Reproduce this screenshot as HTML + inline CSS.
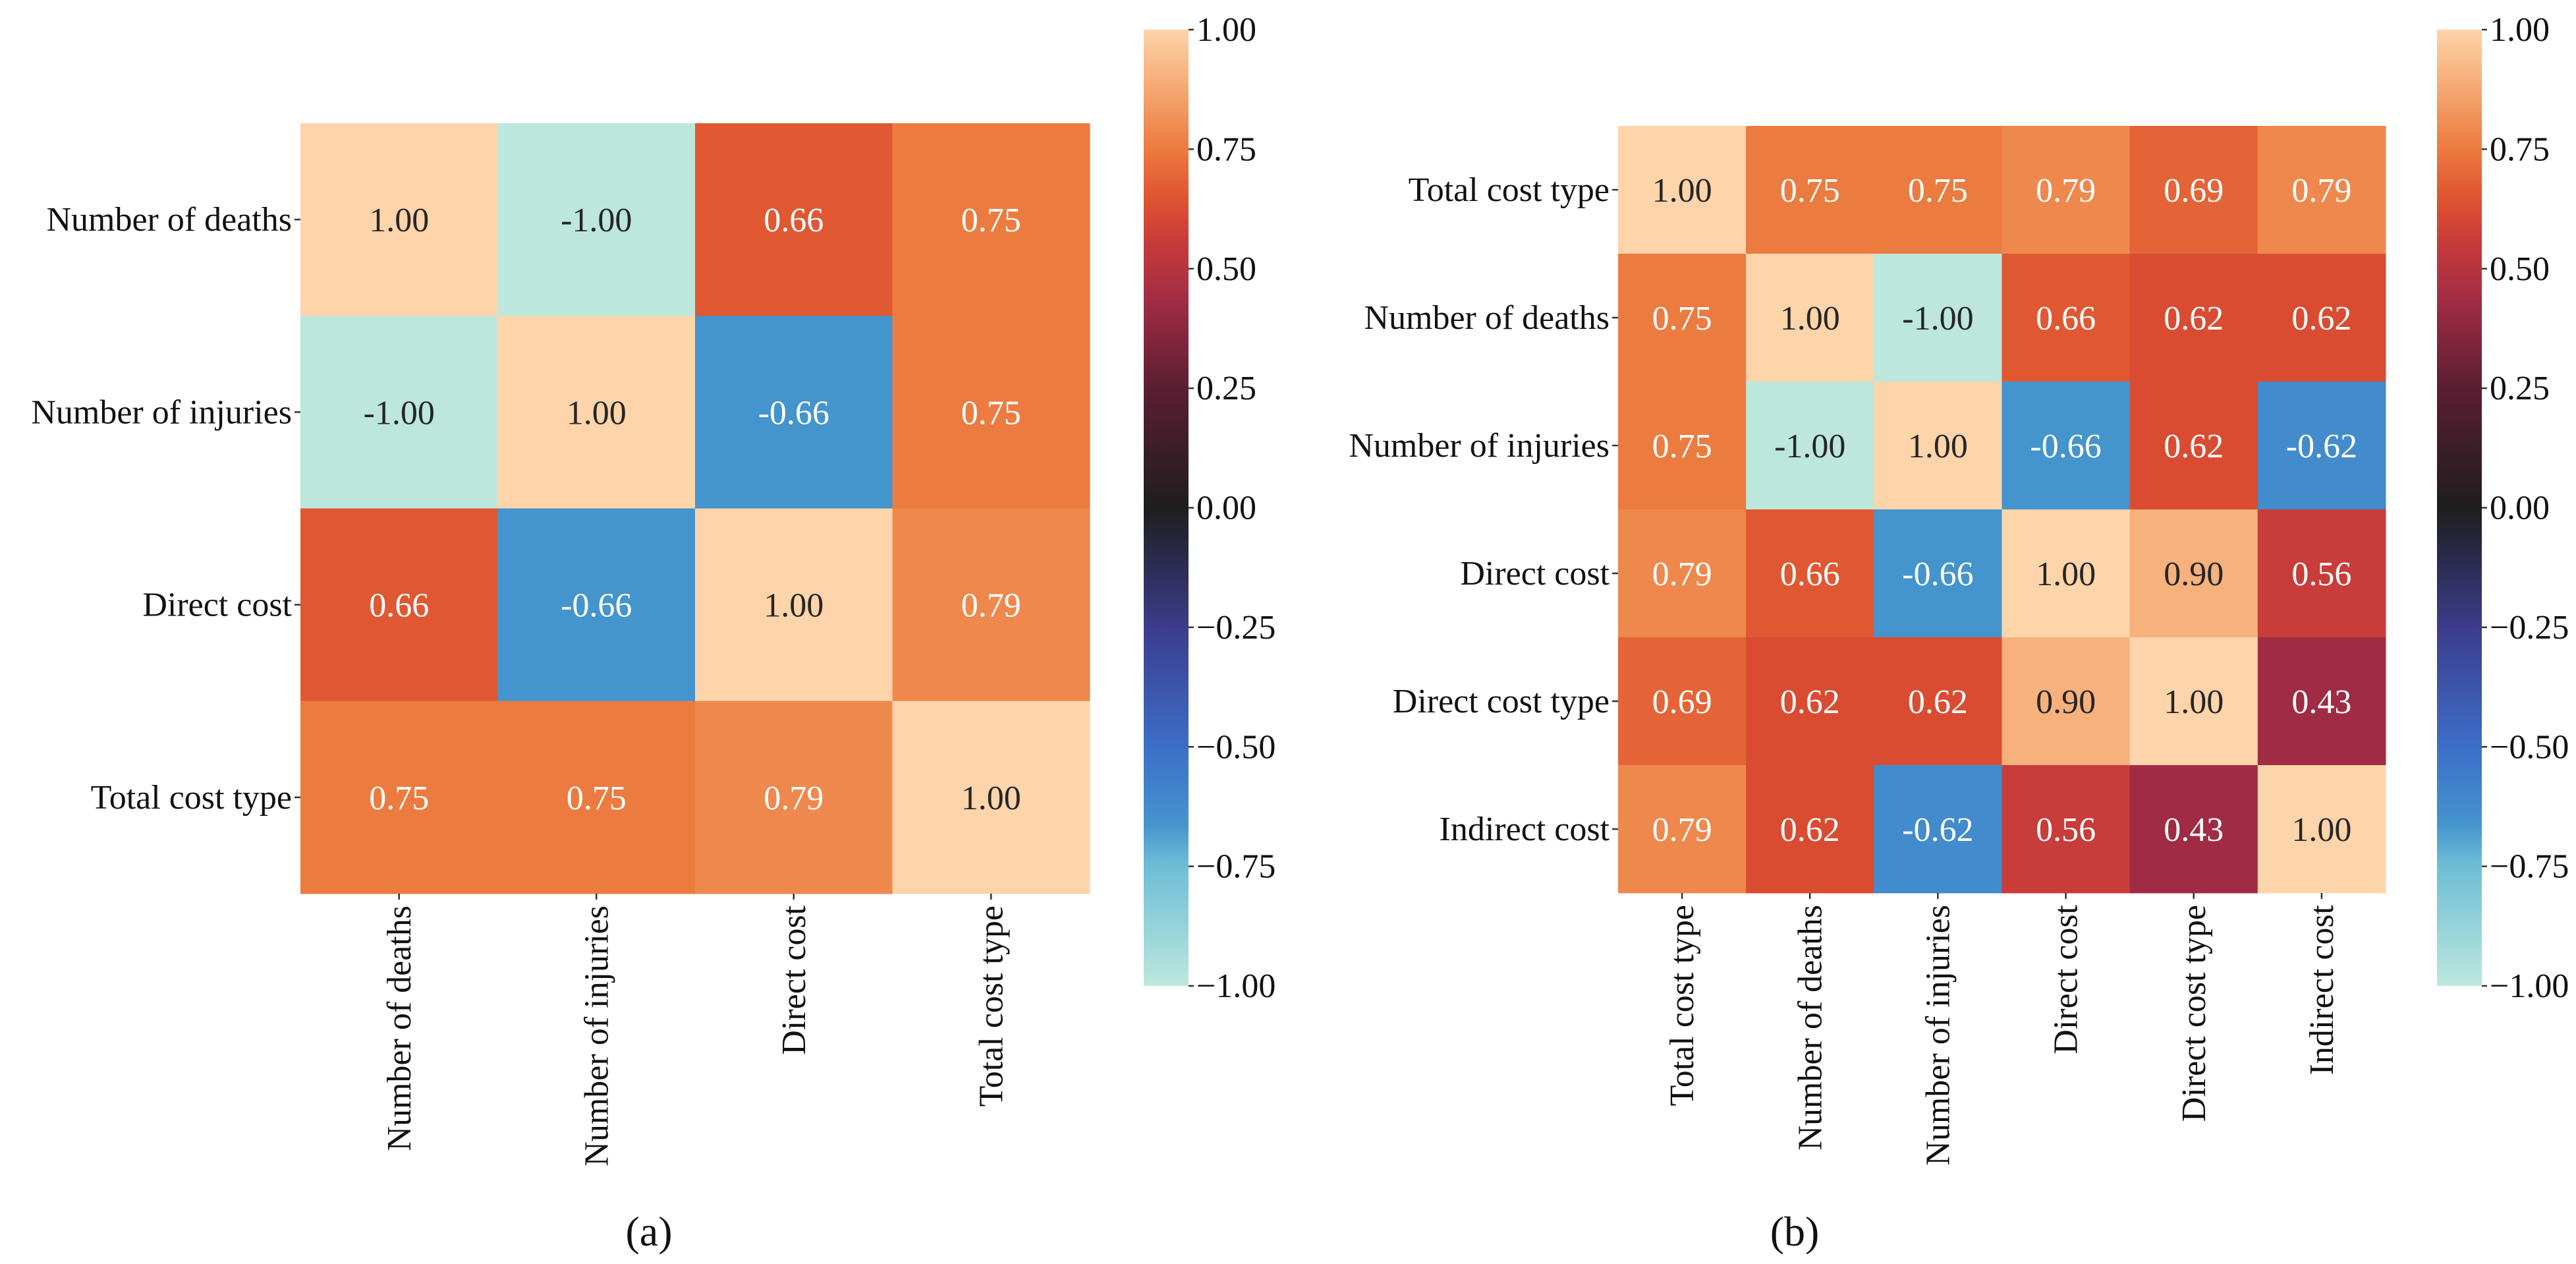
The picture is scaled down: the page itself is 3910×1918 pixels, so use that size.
<!DOCTYPE html>
<html><head><meta charset="utf-8"><style>html,body{margin:0;padding:0;background:#fff}svg{display:block}text{font-family:"Liberation Serif",serif}</style></head>
<body>
<svg id="fig" xmlns="http://www.w3.org/2000/svg" width="3910" height="1918" viewBox="0 0 3910 1918">
<defs id="defs"></defs>
</svg>
<script>
const labelsA = ["Number of deaths","Number of injuries","Direct cost","Total cost type"];
const valuesA = [
 [1.00,-1.00,0.66,0.75],
 [-1.00,1.00,-0.66,0.75],
 [0.66,-0.66,1.00,0.79],
 [0.75,0.75,0.79,1.00]];
const labelsB = ["Total cost type","Number of deaths","Number of injuries","Direct cost","Direct cost type","Indirect cost"];
const valuesB = [
 [1.00,0.75,0.75,0.79,0.69,0.79],
 [0.75,1.00,-1.00,0.66,0.62,0.62],
 [0.75,-1.00,1.00,-0.66,0.62,-0.62],
 [0.79,0.66,-0.66,1.00,0.90,0.56],
 [0.69,0.62,0.62,0.90,1.00,0.43],
 [0.79,0.62,-0.62,0.56,0.43,1.00]];
const cbTicks = [1.00,0.75,0.50,0.25,0.00,-0.25,-0.50,-0.75,-1.00];
const cmapV = [-1,-0.75,-0.66,-0.5,-0.25,0,0.25,0.43,0.56,0.62,0.66,0.75,0.79,0.9,1];
const cmapC = [[189,231,220],[110,190,215],[68,148,206],[60,110,200],[60,60,140],[30,30,30],[90,30,50],[160,43,68],[200,60,58],[218,76,50],[224,88,50],[236,123,64],[239,136,77],[247,177,125],[254,212,170]];

const NS="http://www.w3.org/2000/svg";
const svg=document.getElementById('fig');
const FS=52;
function mk(t,a,p){const e=document.createElementNS(NS,t);for(const k in a)e.setAttribute(k,a[k]);(p||svg).appendChild(e);return e;}
function color(v){
  for(let i=0;i<cmapV.length-1;i++){
    if(v<=cmapV[i+1]){const t=(v-cmapV[i])/(cmapV[i+1]-cmapV[i]);const a=cmapC[i],b=cmapC[i+1];
      return 'rgb('+a.map((x,j)=>Math.round(x+(b[j]-x)*t)).join(',')+')';}
  }
  return 'rgb('+cmapC[cmapC.length-1].join(',')+')';
}
let gid=0;
function heatmap(labels,values,x0,y0,x1,y1,cbx,name){
  const g=mk('g',{});
  
  
  const n=labels.length,cw=(x1-x0)/n,ch=(y1-y0)/n;
  values.forEach((row,r)=>row.forEach((v,c)=>{
    const rc=mk('rect',{x:x0+c*cw,y:y0+r*ch,width:cw+0.5,height:ch+0.5,fill:color(v)},g);
    
    
    const dark=(v>0.85||v<-0.85);
    const tx=mk('text',{x:x0+(c+0.5)*cw,y:y0+(r+0.5)*ch+18,'text-anchor':'middle','font-size':FS,fill:dark?'#262626':'#fff'},g);
    tx.textContent=v.toFixed(2);
    
    
  }));
  labels.forEach((l,i)=>{
    const cy=y0+(i+0.5)*ch;
    mk('line',{x1:x0-9,y1:cy,x2:x0,y2:cy,stroke:'#333','stroke-width':2.5},g);
    const t=mk('text',{x:x0-13,y:cy+17,'text-anchor':'end','font-size':FS,fill:'#111'},g);
    t.textContent=l;
    
    
    const cx=x0+(i+0.5)*cw;
    mk('line',{x1:cx,y1:y1,x2:cx,y2:y1+9,stroke:'#333','stroke-width':2.5},g);
    const t2=mk('text',{x:0,y:0,'text-anchor':'end','font-size':FS,fill:'#111',transform:'translate('+(cx+17)+','+(y1+18)+') rotate(-90)'},g);
    t2.textContent=l;
    
    
  });
  const id='cb'+(gid++);
  const lg=mk('linearGradient',{id:id,x1:0,y1:1,x2:0,y2:0},document.getElementById('defs'));
  cmapV.forEach((v,i)=>mk('stop',{offset:(v+1)/2,'stop-color':'rgb('+cmapC[i].join(',')+')'},lg));
  const cbTop=45,cbBot=1496,cbW=68;
  const cb=mk('rect',{x:cbx,y:cbTop,width:cbW,height:cbBot-cbTop,fill:'url(#'+id+')'},g);
  
  
  cbTicks.forEach(v=>{
    const y=cbBot-(v+1)/2*(cbBot-cbTop);
    mk('line',{x1:cbx+cbW,y1:y,x2:cbx+cbW+8,y2:y,stroke:'#333','stroke-width':2.5},g);
    const t=mk('text',{x:cbx+cbW+12,y:y+17,'font-size':FS,fill:'#111'},g);
    t.textContent=(v<0?'\u2212'+Math.abs(v).toFixed(2):v.toFixed(2));
    
    
  });
}
heatmap(labelsA,valuesA,456,187,1654,1356,1736,'heatmap-a');
heatmap(labelsB,valuesB,2456,191,3621,1355,3699,'heatmap-b');
const pa=mk('text',{x:985,y:1890,'text-anchor':'middle','font-size':64,fill:'#111'});
pa.textContent='(a)';


const pb=mk('text',{x:2724,y:1890,'text-anchor':'middle','font-size':64,fill:'#111'});
pb.textContent='(b)';


</script>
</body></html>
